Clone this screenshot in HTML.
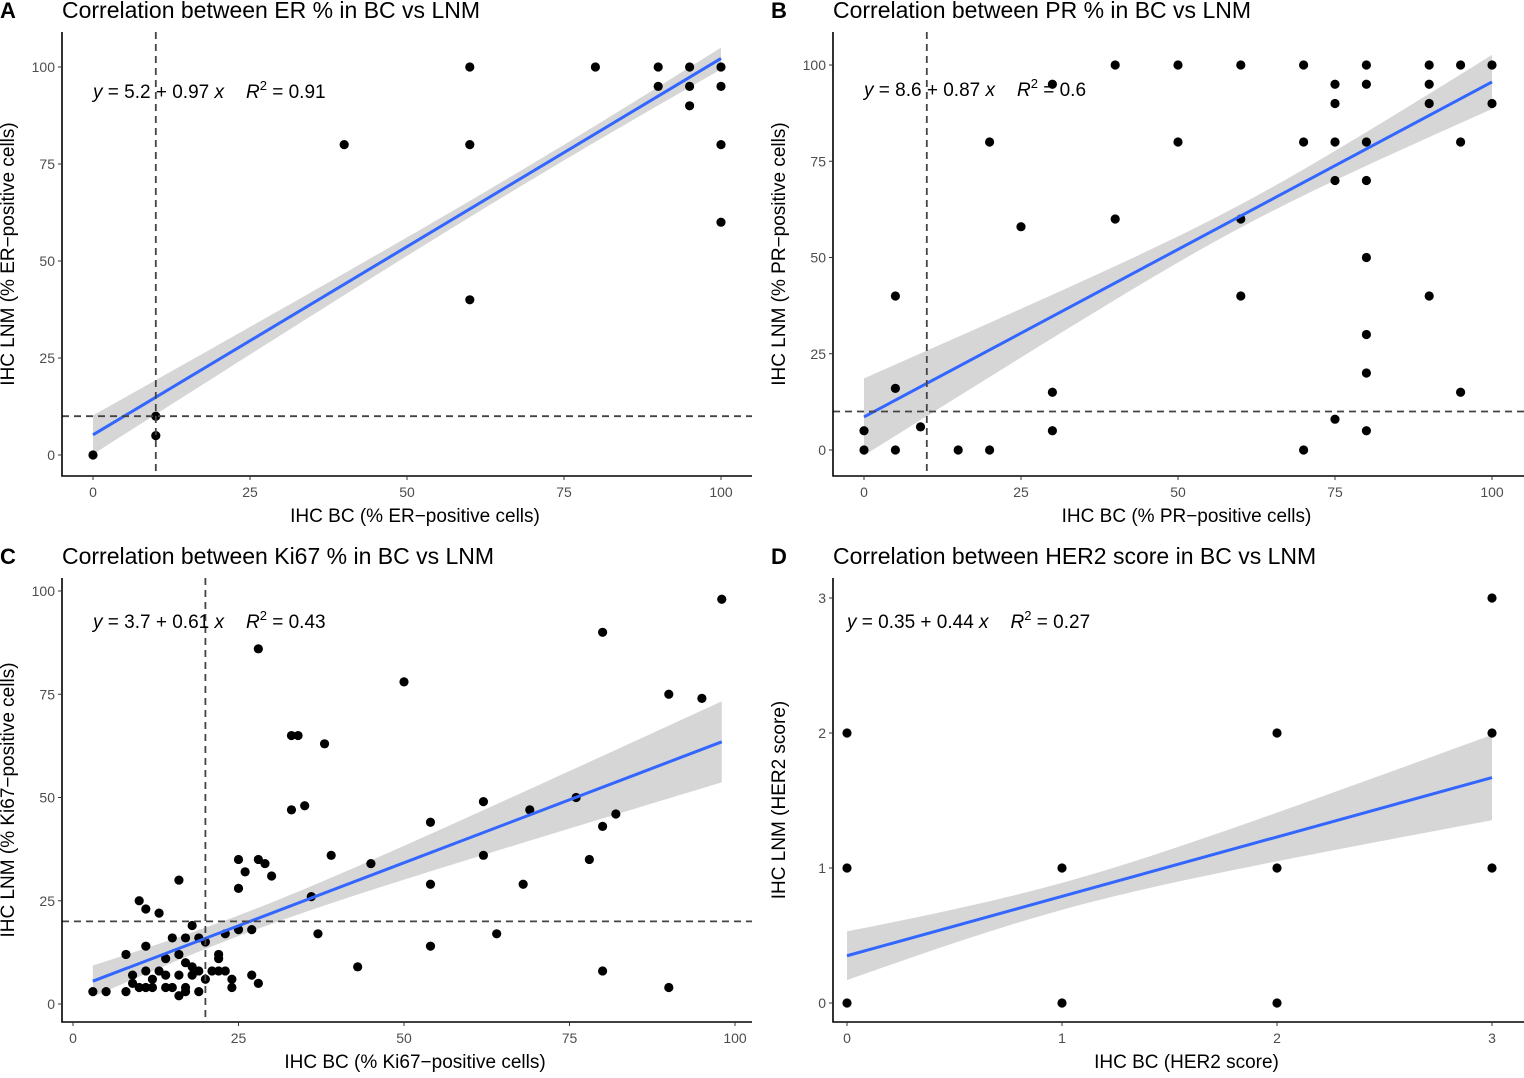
<!DOCTYPE html>
<html><head><meta charset="utf-8"><style>
body{margin:0;background:#fff;width:1524px;height:1073px;overflow:hidden;font-family:"Liberation Sans",Arial,sans-serif}
svg text{font-family:"Liberation Sans",Arial,sans-serif}
</style></head><body>
<svg id="c" width="1524" height="1073"></svg>
<script>
const ptsA_x=[0,10,10,40,60,60,60,80,90,90,95,95,95,100,100,100,100];
const ptsA_y=[0,10,5,80,100,80,40,100,100,95,100,95,90,100,95,80,60];
const ptsB_x=[0,0,5,5,5,9,15,20,20,25,30,30,30,40,40,50,50,60,60,60,70,70,70,75,75,75,75,75,80,80,80,80,80,80,80,80,90,90,90,90,95,95,95,100,100];
const ptsB_y=[0,5,40,16,0,6,0,80,0,58,95,15,5,100,60,100,80,100,60,40,100,80,0,95,90,80,70,8,100,95,80,70,50,30,20,5,100,95,90,40,100,80,15,100,90];
const ptsC_x=[3,5,8,8,10,11,12,9,9,11,11,12,13,14,14,14,15,15,16,16,16,17,17,17,17,18,18,18,19,19,19,20,20,21,22,22,22,23,23,24,24,25,25,26,27,27,28,10,11,13,16,98,80,28,50,90,95,33,34,38,76,62,35,33,69,82,54,80,39,62,45,25,28,29,30,54,68,36,78,37,64,54,43,80,90];
const ptsC_y=[3,3,3,12,4,4,4,7,5,14,8,6,8,11,7,4,16,4,12,7,2,16,10,4,3,19,9,7,16,8,3,15,6,8,12,11,8,17,8,6,4,18,28,32,18,7,5,25,23,22,30,98,90,86,78,75,74,65,65,63,50,49,48,47,47,46,44,43,36,36,34,35,35,34,31,29,29,26,35,17,17,14,9,8,4];
const ptsD_x=[0,0,0,1,1,2,2,2,3,3,3];
const ptsD_y=[0,1,2,0,1,0,1,2,1,2,3];
const fitA=[5.2,0.97], fitB=[8.6,0.87], fitC=[3.7,0.61], fitD=[0.35,0.44];

const NS="http://www.w3.org/2000/svg";
const svg=document.getElementById('c');
function mk(tag,attrs,parent,txt){const e=document.createElementNS(NS,tag);for(const k in attrs)e.setAttribute(k,attrs[k]);if(txt!==undefined)e.textContent=txt;(parent||svg).appendChild(e);return e;}

function panel(o){
  const g=mk('g',{});
  
  
  const sx=v=>o.x0+(v-o.xmin)*(o.x1-o.x0)/(o.xmax-o.xmin);
  const sy=v=>o.y0+(v-o.ymin)*(o.y1-o.y0)/(o.ymax-o.ymin);
  let up=[],dn=[];
  for(let i=0;i<=60;i++){const x=o.lx0+(o.lx1-o.lx0)*i/60;const y=o.fit[0]+o.fit[1]*x;const h=Math.sqrt(o.m*o.m+o.k*o.k*(x-o.xm)*(x-o.xm));up.push(sx(x)+','+sy(y+h));dn.unshift(sx(x)+','+sy(y-h));}
  const band=mk('polygon',{points:up.concat(dn).join(' '),fill:'#c8c8c8','fill-opacity':0.75},g);
  
  
  for(let i=0;i<o.px.length;i++){const c=mk('circle',{cx:sx(o.px[i]),cy:sy(o.py[i]),r:4.6,fill:'#000'},g);
    
    }
  const ln=mk('line',{x1:sx(o.lx0),y1:sy(o.fit[0]+o.fit[1]*o.lx0),x2:sx(o.lx1),y2:sy(o.fit[0]+o.fit[1]*o.lx1),stroke:'#3366ff','stroke-width':3},g);
  
  
  if(o.dash!==undefined){
    const v=mk('line',{x1:sx(o.dash),x2:sx(o.dash),y1:o.top,y2:o.bottom,stroke:'#444','stroke-width':1.8,'stroke-dasharray':'7,5'},g);
    
    
    const h=mk('line',{x1:o.left,x2:o.right,y1:sy(o.dash),y2:sy(o.dash),stroke:'#444','stroke-width':1.8,'stroke-dasharray':'7,5'},g);
    
    
  }
  mk('path',{d:`M${o.left},${o.top}V${o.bottom}H${o.right}`,fill:'none',stroke:'#000','stroke-width':1.6},g);
  o.xt.forEach(t=>{mk('line',{x1:sx(t),x2:sx(t),y1:o.bottom,y2:o.bottom+4,stroke:'#333'},g);
    const tt=mk('text',{x:sx(t),y:o.bottom+21,'text-anchor':'middle','font-size':14,fill:'#4d4d4d'},g,t);
    
    });
  o.yt.forEach(t=>{mk('line',{x1:o.left-4,x2:o.left,y1:sy(t),y2:sy(t),stroke:'#333'},g);
    const tt=mk('text',{x:o.left-7,y:sy(t)+5,'text-anchor':'end','font-size':14,fill:'#4d4d4d'},g,t);
    
    });
  const xl=mk('text',{x:(o.left+o.right)/2+8,y:o.bottom+46,'text-anchor':'middle','font-size':19,fill:'#000'},g,o.xlab);
  
  
  const ycy=(o.top+o.bottom)/2;
  const yl=mk('text',{x:o.left-48,y:ycy,'text-anchor':'middle','font-size':19,fill:'#000',transform:`rotate(-90 ${o.left-48} ${ycy})`},g,o.ylab);
  
  
  const tl=mk('text',{x:o.left,y:o.top-14,'font-size':23,fill:'#000'},g,o.title);
  
  
  const lt=mk('text',{x:o.left-62,y:o.top-14,'font-size':22,'font-weight':'bold',fill:'#000'},g,o.id);
  
  
  const eq=mk('text',{x:o.eqx,y:o.eqy,'font-size':19,fill:'#000'},g);
  
  
  eq.innerHTML=`<tspan font-style="italic">y</tspan> = ${o.fit[0]} + ${o.fit[1]} <tspan font-style="italic">x</tspan><tspan font-style="italic" dx="22">R</tspan><tspan dy="-8" font-size="13">2</tspan><tspan dy="8"> = ${o.r2}</tspan>`;
}
panel({id:'A',left:62,right:752,top:32,bottom:476,x0:93,x1:721,xmin:0,xmax:100,y0:455,y1:67,ymin:0,ymax:100,px:ptsA_x,py:ptsA_y,fit:fitA,lx0:0,lx1:100,m:2,k:0.0655,xm:70,dash:10,xt:[0,25,50,75,100],yt:[0,25,50,75,100],xlab:'IHC BC (% ER−positive cells)',ylab:'IHC LNM (% ER−positive cells)',title:'Correlation between ER % in BC vs LNM',eqx:93,eqy:98,r2:'0.91'});
panel({id:'B',left:833,right:1524,top:32,bottom:476,x0:864,x1:1492,xmin:0,xmax:100,y0:450,y1:65,ymin:0,ymax:100,px:ptsB_x,py:ptsB_y,fit:fitB,lx0:0,lx1:100,m:3,k:0.159,xm:60,dash:10,xt:[0,25,50,75,100],yt:[0,25,50,75,100],xlab:'IHC BC (% PR−positive cells)',ylab:'IHC LNM (% PR−positive cells)',title:'Correlation between PR % in BC vs LNM',eqx:864,eqy:96,r2:'0.6'});
panel({id:'C',left:62,right:752,top:578,bottom:1022,x0:73,x1:735,xmin:0,xmax:100,y0:1004,y1:591,ymin:0,ymax:100,px:ptsC_x,py:ptsC_y,fit:fitC,lx0:3,lx1:98,m:2.5,k:0.13,xm:25,dash:20,xt:[0,25,50,75,100],yt:[0,25,50,75,100],xlab:'IHC BC (% Ki67−positive cells)',ylab:'IHC LNM (% Ki67−positive cells)',title:'Correlation between Ki67 % in BC vs LNM',eqx:93,eqy:628,r2:'0.43'});
panel({id:'D',left:833,right:1524,top:578,bottom:1022,x0:847,x1:1492,xmin:0,xmax:3,y0:1003,y1:598,ymin:0,ymax:3,px:ptsD_x,py:ptsD_y,fit:fitD,lx0:0,lx1:3,m:0.1,k:0.15,xm:1.0,xt:[0,1,2,3],yt:[0,1,2,3],xlab:'IHC BC (HER2 score)',ylab:'IHC LNM (HER2 score)',title:'Correlation between HER2 score in BC vs LNM',eqx:847,eqy:628,r2:'0.27'});
</script>
</body></html>
